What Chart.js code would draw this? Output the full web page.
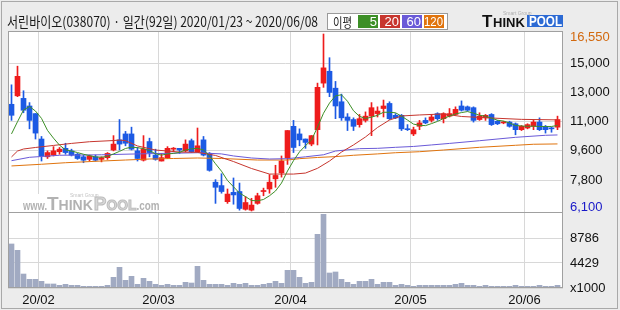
<!DOCTYPE html>
<html>
<head>
<meta charset="utf-8">
<script src="https://cdn.jsdelivr.net/npm/chart.js@4/dist/chart.umd.min.js"></script>
<style>
html, body { margin: 0; padding: 0; background: #ececec; }
canvas { display: block; }
</style>
</head>
<body>
<canvas id="chart" width="620" height="310"></canvas>
<script>
// 일봉 2020/01/23 ~ 2020/06/08 (92일), 가격 단위: 원
const opens = [12400, 12900, 12750, 12300, 11850, 10350, 9300, 9400, 9600, 9800,
	9650, 9450, 9300, 9150, 9300, 9150, 9250, 9700, 10300, 10650,
	10650, 9650, 9100, 10200, 9400, 9050, 9250, 9750, 9800, 9650,
	10250, 9600, 10300, 9500, 7800, 7600, 6650, 7200, 7250, 6200,
	6150, 6550, 7250, 7400, 8000, 8350, 9250, 11100, 10650, 10350,
	10050, 10900, 13650, 14350, 13350, 12550, 11650, 11500, 11200, 11450,
	11700, 11850, 12150, 12450, 11750, 11750, 10950, 10650, 11100, 11450,
	11450, 11850, 11550, 11700, 11800, 12300, 12250, 12200, 11500, 11600,
	11800, 11400, 11300, 11350, 11250, 10900, 11000, 11100, 11350, 11100,
	11000, 11050];
const highs = [13550, 14650, 13200, 12500, 11850, 10500, 9650, 9900, 9850, 10100,
	9750, 9500, 9400, 9400, 9400, 9300, 9550, 10550, 11500, 10800,
	11050, 9850, 10550, 10400, 9750, 9500, 9900, 9850, 9800, 10300,
	10350, 11000, 10500, 9550, 7950, 8300, 7400, 8050, 7750, 6950,
	6850, 7150, 7450, 8250, 8800, 9350, 10850, 11450, 10950, 10350,
	10550, 13650, 16550, 15150, 13750, 13000, 11850, 11600, 11800, 11950,
	12500, 12250, 12650, 12550, 11850, 11800, 11200, 11050, 11450, 11600,
	11800, 11900, 11900, 12150, 12250, 12600, 12300, 12250, 11900, 11800,
	11850, 11450, 11400, 11400, 11300, 11150, 11250, 11450, 11600, 11150,
	11050, 11700];
const lows = [11450, 12850, 11900, 10950, 10350, 9050, 9200, 9350, 9450, 9450,
	9350, 9150, 8950, 9050, 9050, 9000, 9150, 9650, 9700, 9950,
	9700, 9050, 9050, 9300, 9100, 9050, 9200, 9600, 9500, 9600,
	9550, 9550, 9350, 8450, 6550, 7150, 6550, 6500, 6150, 6150,
	6100, 6500, 7000, 7150, 7500, 8100, 8850, 9550, 9950, 9800,
	9950, 10000, 13400, 12850, 11550, 11450, 10850, 10850, 11050, 11350,
	10550, 11650, 11650, 11500, 11550, 10850, 10850, 10550, 10900, 11250,
	11350, 11450, 11300, 11650, 11750, 12000, 12000, 11350, 11450, 11450,
	11150, 11200, 11250, 11050, 10600, 10850, 10950, 10900, 10850, 10700,
	10750, 10900];
const closes = [11750, 14050, 12050, 11450, 10700, 9350, 9550, 9650, 9750, 9550,
	9400, 9200, 9100, 9350, 9100, 9250, 9500, 10050, 10050, 10100,
	9750, 9200, 9750, 9550, 9150, 9250, 9800, 9750, 9700, 10050,
	9600, 9950, 9400, 8500, 7500, 7250, 7100, 7050, 6250, 6600,
	6450, 7000, 7250, 7800, 8200, 9050, 10850, 9850, 10300, 10150,
	10550, 13400, 14550, 13100, 12300, 11600, 11450, 11100, 11550, 11700,
	12200, 12000, 12300, 11550, 11600, 10950, 10900, 10900, 11300, 11300,
	11650, 11550, 11850, 11850, 12100, 12050, 12050, 11450, 11700, 11750,
	11200, 11250, 11300, 11100, 10900, 11100, 11200, 11350, 10900, 10900,
	10950, 11500];
// 거래량 (x1000주)
const volumes = [7780, 6660, 2470, 1530, 1530, 1180, 710, 710, 470, 650,
	470, 470, 300, 300, 300, 300, 470, 1890, 3650, 1360,
	2060, 650, 1710, 1180, 650, 470, 650, 470, 470, 1000,
	880, 3830, 1360, 650, 650, 650, 470, 830, 650, 830,
	470, 470, 650, 830, 1180, 830, 3120, 3120, 1890, 830,
	1000, 9480, 13020, 2650, 2830, 1530, 1000, 650, 1180, 1180,
	1530, 650, 1000, 1000, 470, 650, 470, 300, 470, 470,
	470, 470, 470, 470, 650, 830, 470, 470, 300, 470,
	300, 300, 300, 300, 470, 300, 300, 300, 470, 300,
	300, 470];

// 이동평균선
const ma5 = [10650, 11370, 12060, 12270, 12000, 11570, 10860, 10400, 9990, 9710,
	9640, 9550, 9450, 9370, 9290, 9280, 9320, 9470, 9620, 9790,
	9870, 9840, 9780, 9660, 9480, 9400, 9470, 9500, 9560, 9700,
	9770, 9800, 9700, 9360, 8890, 8450, 7900, 7530, 7160, 6950,
	6720, 6700, 6780, 7000, 7280, 7750, 8460, 9070, 9590, 9960,
	10290, 11050, 11870, 12470, 12900, 12960, 12580, 12020, 11690, 11560,
	11640, 11750, 11930, 11930, 11900, 11700, 11470, 11230, 11160, 11140,
	11260, 11390, 11560, 11700, 11830, 11910, 11970, 11880, 11750, 11700,
	11580, 11460, 11410, 11300, 11150, 11120, 11100, 11110, 11090, 11090,
	11090, 11150];
const ma20Idx = [0, 1, 2, 4, 7, 10, 13, 17, 18, 19, 21, 24, 28, 31, 34, 37, 40, 43, 47, 49, 51, 53, 55, 57, 59, 61, 63, 65, 68, 72, 75, 80, 85, 91];
const ma20 = [9290, 9640, 9760, 9850, 9970, 10090, 10190, 10260, 10290, 10250, 9940, 9700, 9580, 9565, 9380, 9020, 8610, 8280, 8280, 8340, 8620, 9050, 9580, 10000, 10470, 11030, 11470, 11710, 11770, 11830, 11680, 11590, 11510, 11480];
const ma60Idx = [0, 3, 8, 15, 21, 31, 35, 37, 40, 43, 46, 49, 52, 54, 58, 61, 64, 67, 70, 73, 78, 84, 89, 91];
const ma60 = [9070, 9270, 9390, 9420, 9470, 9540, 9470, 9350, 9230, 9170, 9190, 9300, 9420, 9640, 9780, 9800, 9860, 9910, 10000, 10090, 10250, 10450, 10570, 10590];
const ma120Idx = [0, 5, 9, 15, 19, 23, 27, 31, 35, 41, 46, 48, 51, 54, 57, 61, 64, 68, 72, 78, 84, 87, 91];
const ma120 = [8760, 8860, 8950, 9050, 9110, 9170, 9200, 9230, 9200, 9110, 9110, 9190, 9260, 9310, 9390, 9470, 9540, 9600, 9700, 9860, 9980, 10040, 10060];

// 축 눈금
const monthIdx = [4.5, 24.5, 46.5, 66.5, 85.5];
const monthLabels = ['20/02', '20/03', '20/04', '20/05', '20/06'];
const priceTicks = [14820, 13110, 11410, 9660, 7930];
const priceLabels = ['15,000', '13,000', '11,000', '9,600', '7,800'];
const volTicks = [0, 4429, 8786];
const volLabels = ['x1000', '4429', '8786'];
const priceMax = 16550;
const priceMin = 6100;

const title = '서린바이오(038070) · 일간(92일) 2020/01/23 ~ 2020/06/08';
const maNames = ['5', '20', '60', '120'];
const maColors = ['#3d8f27', '#c7362e', '#6a5ad8', '#e0740e'];

const UP = 'rgb(238,28,28)';
const DOWN = 'rgb(28,90,228)';
const FONT = '"Liberation Sans", Arial, sans-serif';

const candleColor = ctx => closes[ctx.dataIndex] >= opens[ctx.dataIndex] ? UP : DOWN;
const pts = (idx, vals) => idx.map((x, k) => ({ x: x, y: vals[k] }));
const seq = vals => vals.map((v, i) => ({ x: i, y: v }));

const chrome = {
	id: 'chrome',
	beforeDraw(chart) {
		const { ctx, chartArea: a } = chart;
		ctx.save();
		ctx.fillStyle = '#ececec';
		ctx.fillRect(0, 0, chart.width, chart.height);
		ctx.strokeStyle = '#a9a9a9';
		ctx.lineWidth = 1;
		ctx.strokeRect(1.5, 1.5, chart.width - 4, chart.height - 3);
		ctx.fillStyle = '#ffffff';
		ctx.fillRect(a.left, a.top, a.right - a.left, a.bottom - a.top);
		ctx.restore();
	},
	beforeDatasetsDraw(chart) {
		// 워터마크
		const { ctx, chartArea: a } = chart;
		const bottom = chart.scales.y.bottom;
		const base = bottom - 3;
		ctx.save();
		ctx.fillStyle = '#ffffff';
		ctx.fillRect(a.left + 12, bottom - 19, 146, 18);
		ctx.textBaseline = 'alphabetic';
		ctx.textAlign = 'left';
		let x = a.left + 15;
		ctx.fillStyle = '#b2b2b2';
		ctx.font = 'bold 13px ' + FONT;
		ctx.fillText('www.', x, base, 24);
		x += 24;
		ctx.font = 'bold 19px ' + FONT;
		ctx.fillText('T', x, base);
		x += ctx.measureText('T').width;
		ctx.font = 'bold 14px ' + FONT;
		ctx.fillText('HINK', x, base, 38);
		x += Math.min(38, ctx.measureText('HINK').width) + 1;
		ctx.fillStyle = '#d8d8d8';
		ctx.strokeStyle = '#bcbcbc';
		ctx.lineWidth = 1;
		ctx.font = 'bold 19px ' + FONT;
		ctx.fillText('P', x, base);
		ctx.strokeText('P', x, base);
		x += ctx.measureText('P').width;
		ctx.font = 'bold 14px ' + FONT;
		ctx.fillText('OOL', x, base, 30);
		ctx.strokeText('OOL', x, base, 30);
		x += Math.min(30, ctx.measureText('OOL').width);
		ctx.fillStyle = '#b2b2b2';
		ctx.font = 'bold 12px ' + FONT;
		ctx.fillText('.com', x, base, 23);
		ctx.font = '5px ' + FONT;
		ctx.fillStyle = '#c4c4c4';
		ctx.fillText('Smart Group', a.left + 62, bottom - 16);
		ctx.restore();
	},
	afterDraw(chart) {
		const { ctx, chartArea: a } = chart;
		const ys = chart.scales.y;
		const vs = chart.scales.v;
		ctx.save();
		// 테두리
		ctx.strokeStyle = '#a0a0a0';
		ctx.lineWidth = 1;
		ctx.strokeRect(a.left + 0.5, a.top + 0.5, a.right - a.left - 1, a.bottom - a.top - 1);
		ctx.beginPath();
		ctx.moveTo(a.left, vs.top - 0.5);
		ctx.lineTo(a.right, vs.top - 0.5);
		ctx.stroke();

		// 최고가 / 최저가
		ctx.font = '13px ' + FONT;
		ctx.textAlign = 'left';
		ctx.textBaseline = 'middle';
		ctx.fillStyle = '#d2690f';
		ctx.fillText('16,550', ys.left + 7, Math.max(ys.getPixelForValue(priceMax), ys.top + 6));
		ctx.fillStyle = '#1818c8';
		ctx.fillText('6,100', ys.left + 7, Math.min(ys.getPixelForValue(priceMin), ys.bottom - 6));

		// 제목
		ctx.fillStyle = '#1a1a1a';
		ctx.font = '14px "Noto Sans CJK KR", sans-serif';
		ctx.fillText(title, 7, 22, 311);

		// 이평 범례
		ctx.fillStyle = '#ffffff';
		ctx.fillRect(327, 13, 120, 16);
		ctx.strokeStyle = '#9a9a9a';
		ctx.strokeRect(327.5, 13.5, 120, 16);
		ctx.fillStyle = '#1a1a1a';
		ctx.font = '13px "Noto Sans CJK KR", sans-serif';
		ctx.fillText('이평', 333, 22, 19);
		ctx.font = '13px ' + FONT;
		ctx.textAlign = 'right';
		maNames.forEach((n, k) => {
			const bx = 358 + k * 22;
			ctx.fillStyle = maColors[k];
			ctx.fillRect(bx, 15, 20, 13);
			ctx.fillStyle = '#ffffff';
			ctx.fillText(n, bx + 19, 22, 19);
		});

		// 로고
		ctx.textAlign = 'left';
		ctx.textBaseline = 'alphabetic';
		ctx.fillStyle = '#111111';
		ctx.font = 'bold 17px ' + FONT;
		ctx.fillText('T', 482, 27);
		ctx.font = 'bold 13px ' + FONT;
		ctx.fillText('HINK', 493, 27, 33);
		ctx.fillStyle = '#2c6ad4';
		ctx.fillRect(527, 15, 36, 12);
		ctx.fillStyle = '#ffffff';
		ctx.font = 'bold 14px ' + FONT;
		ctx.fillText('POOL', 529, 26, 33);
		ctx.fillStyle = '#b0b0b0';
		ctx.font = '5px ' + FONT;
		ctx.fillText('Smart Group', 503, 15);
		ctx.restore();
	}
};

const grid = { color: '#d8d8d8', lineWidth: 1, drawTicks: false, offset: false };

new Chart(document.getElementById('chart'), {
	type: 'bar',
	data: {
		datasets: [
			{ type: 'line', data: seq(ma5), borderColor: maColors[0], borderWidth: 1, pointRadius: 0, yAxisID: 'y', order: 0 },
			{ type: 'line', data: pts(ma20Idx, ma20), borderColor: maColors[1], borderWidth: 1, pointRadius: 0, yAxisID: 'y', order: 0 },
			{ type: 'line', data: pts(ma60Idx, ma60), borderColor: maColors[2], borderWidth: 1, pointRadius: 0, yAxisID: 'y', order: 0 },
			{ type: 'line', data: pts(ma120Idx, ma120), borderColor: maColors[3], borderWidth: 1, pointRadius: 0, yAxisID: 'y', order: 0 },
			{
				data: lows.map((l, i) => ({ x: i, y: [l, highs[i]] })),
				backgroundColor: candleColor, barThickness: 1, grouped: false, yAxisID: 'y', order: 2
			},
			{
				data: opens.map((o, i) => ({ x: i, y: [o, closes[i]] })),
				backgroundColor: candleColor, barThickness: 5, minBarLength: 1, grouped: false, yAxisID: 'y', order: 1
			},
			{
				data: seq(volumes),
				backgroundColor: 'rgb(161,170,194)', barThickness: 5, grouped: false, yAxisID: 'v', order: 1
			}
		]
	},
	options: {
		responsive: false,
		animation: false,
		layout: { padding: { left: 8, top: 31, right: 0, bottom: 0 } },
		plugins: { legend: { display: false }, tooltip: { enabled: false } },
		scales: {
			x: {
				type: 'linear',
				offset: false,
				min: -0.5833,
				max: 91.9167,
				afterBuildTicks: s => { s.ticks = monthIdx.map(v => ({ value: v })); },
				afterFit: s => { s.height = 22; },
				grid: grid,
				border: { display: false },
				ticks: {
					padding: 5, autoSkip: false, maxRotation: 0, color: '#111',
					font: { family: FONT, size: 13 },
					callback: (v, i) => monthLabels[i]
				}
			},
			y: {
				position: 'right',
				stack: 'panel',
				stackWeight: 182,
				min: 5982,
				max: 16727,
				afterBuildTicks: s => { s.ticks = priceTicks.map(v => ({ value: v })); },
				afterFit: s => { s.width = 57; },
				grid: grid,
				border: { display: false },
				ticks: {
					padding: 7, color: '#111',
					font: { family: FONT, size: 13 },
					callback: (v, i) => priceLabels[i]
				}
			},
			v: {
				position: 'right',
				stack: 'panel',
				stackWeight: 75,
				min: 0,
				max: 13250,
				afterBuildTicks: s => { s.ticks = volTicks.map(v => ({ value: v })); },
				afterFit: s => { s.width = 57; },
				grid: grid,
				border: { display: false },
				ticks: {
					padding: 7, color: '#111',
					font: { family: FONT, size: 13 },
					callback: (v, i) => volLabels[i]
				}
			}
		}
	},
	plugins: [chrome]
});
</script>
</body>
</html>
